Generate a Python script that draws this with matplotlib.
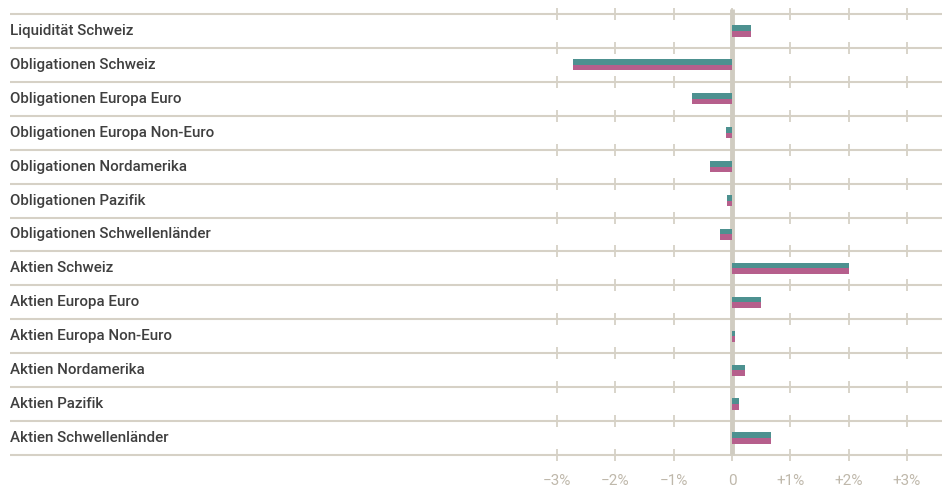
import numpy as np
import matplotlib
matplotlib.use("Agg")
import matplotlib.pyplot as plt

# categories and values (percent)
categories = [
    "Liquidität Schweiz",
    "Obligationen Schweiz",
    "Obligationen Europa Euro",
    "Obligationen Europa Non-Euro",
    "Obligationen Nordamerika",
    "Obligationen Pazifik",
    "Obligationen Schwellenländer",
    "Aktien Schweiz",
    "Aktien Europa Euro",
    "Aktien Europa Non-Euro",
    "Aktien Nordamerika",
    "Aktien Pazifik",
    "Aktien Schwellenländer",
]
series_a = [0.33, -2.73, -0.69, -0.10, -0.38, -0.09, -0.20, 2.00, 0.50, 0.05, 0.22, 0.12, 0.67]
series_b = [0.33, -2.73, -0.69, -0.10, -0.38, -0.09, -0.20, 2.00, 0.50, 0.05, 0.22, 0.12, 0.67]
tick_values = [-3, -2, -1, 0, 1, 2, 3]
tick_labels = ["\u22123%", "\u22122%", "\u22121%", "0", "+1%", "+2%", "+3%"]

teal = "#4d9190"
pink = "#b65f8c"
grid_col = "#d6d1c6"
zero_col = "#d0ccc1"
tick_txt = "#bfb8ab"
label_col = "#3f3f3f"

W, H = 942, 490
px_x = 58.33      # pixels per 1 %
zero_px = 732
row_px = 33.92
top_px = 14

fig = plt.figure(figsize=(W / 100, H / 100), dpi=100)
ax = fig.add_axes([0, 0, 1, 1])
ax.set_xlim(-zero_px / px_x, (W - zero_px) / px_x)
ax.set_ylim((H - top_px) / row_px - 0.5, -top_px / row_px - 0.5)
ax.axis("off")

n = len(categories)
y = np.arange(n)
x_left = (10 - zero_px) / px_x
x_right = (W - zero_px) / px_x

# horizontal separators with small tick marks
bounds = np.arange(n + 1) - 0.5
ax.hlines(bounds, x_left, x_right, color=grid_col, lw=1.5, zorder=1)
tick_h = 6 / row_px
for b in bounds:
    ax.vlines(tick_values, b - tick_h, b + tick_h, color=grid_col, lw=1.3, zorder=1)

# zero line
ax.vlines(0, -0.5 - 5 / row_px, n - 0.5, color=zero_col, lw=3.5, zorder=2)

bh = 5.6 / row_px
ax.barh(y - bh / 2, series_a, height=bh, color=teal, zorder=3)
ax.barh(y + bh / 2, series_b, height=bh, color=pink, zorder=3)

for yi, name in zip(y, categories):
    ax.text(x_left, yi, name, ha="left", va="center", fontsize=10.9,
            family="Roboto", fontweight="medium", color=label_col)

ylab = (481 - top_px) / row_px - 0.5
for v, t in zip(tick_values, tick_labels):
    ax.text(v, ylab, t, ha="center", va="center", fontsize=11,
            family="Roboto", color=tick_txt)

fig.savefig("out.png", dpi=100)
